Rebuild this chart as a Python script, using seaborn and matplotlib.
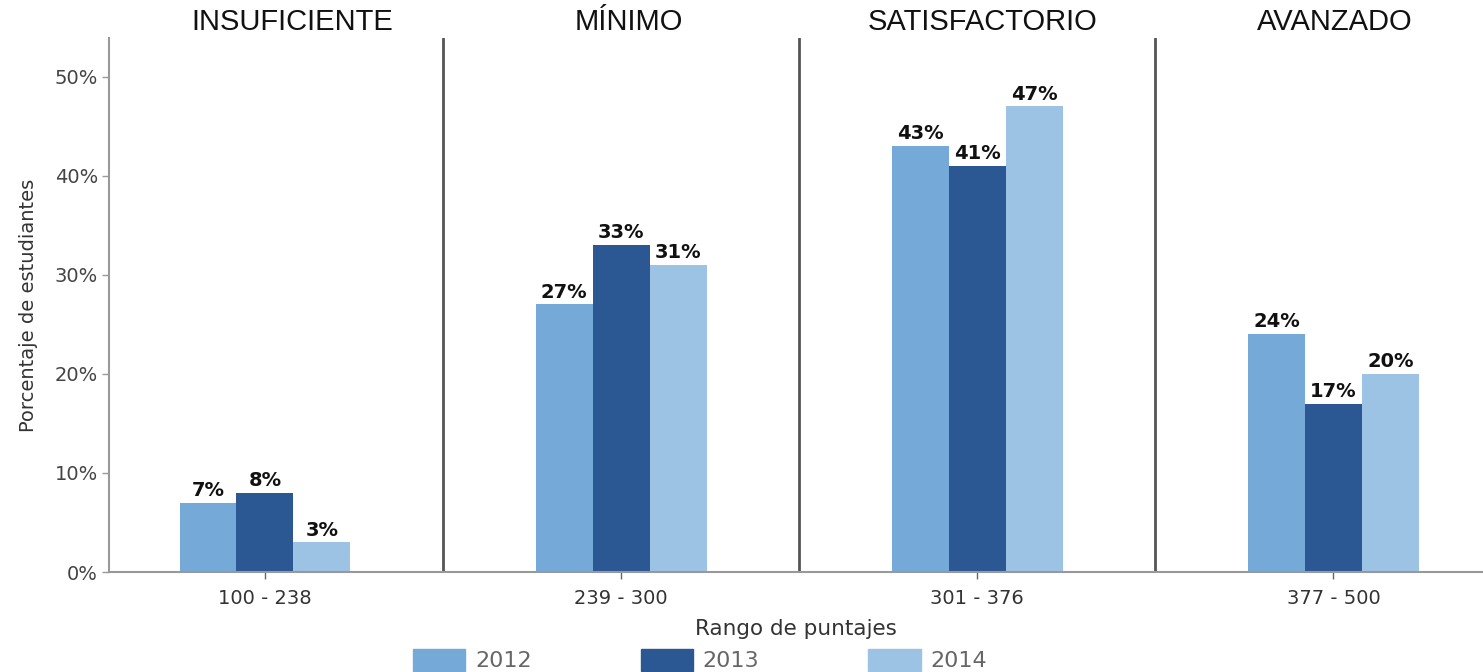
import matplotlib
matplotlib.use("Agg")
import matplotlib.pyplot as plt
import matplotlib.transforms as mtransforms
import pandas as pd
import seaborn as sns

# ── data ────────────────────────────────────────
RANGES = ["100 - 238", "239 - 300", "301 - 376", "377 - 500"]
LEVELS = ["INSUFICIENTE", "MÍNIMO", "SATISFACTORIO", "AVANZADO"]
YEARS = ["2012", "2013", "2014"]
VALUES_2012 = [7, 27, 43, 24]
VALUES_2013 = [8, 33, 41, 17]
VALUES_2014 = [3, 31, 47, 20]
Y_TICKS = [0, 10, 20, 30, 40, 50]

PALETTE = {
    "2012": "#74a9d8",
    "2013": "#2b5893",
    "2014": "#9dc3e4",
}
# headers are not exactly centred over the bar groups in the original
HEADER_SHIFT = [0.076, 0.022, 0.014, 0.003]

rows = []
for year, vals in zip(YEARS, [VALUES_2012, VALUES_2013, VALUES_2014]):
    for rng, v in zip(RANGES, vals):
        rows.append({"rango": rng, "anio": year, "pct": v})
df = pd.DataFrame(rows)

sns.set_style("white")
plt.rcParams["font.family"] = ["DejaVu Sans"]

fig = plt.figure(figsize=(14.83, 6.72), dpi=100)
ax = fig.add_axes([0.0735, 0.1488, 0.9265, 0.7947])

sns.barplot(data=df, x="rango", y="pct", hue="anio", order=RANGES,
            hue_order=YEARS, palette=PALETTE, width=0.48, saturation=1,
            linewidth=0, ax=ax, legend=False)

for cont in ax.containers:
    ax.bar_label(cont, fmt="%d%%", fontsize=14, fontweight="bold",
                 color="#111111", padding=2)

ax.set_xlim(-0.438, 3.42)
ax.set_ylim(0, 53.9)
ax.set_yticks(Y_TICKS)
ax.set_yticklabels([f"{t}%" for t in Y_TICKS])

# separators between performance levels
for x in [0.5, 1.5, 2.5]:
    ax.axvline(x, color="#555555", lw=2)

trans = mtransforms.blended_transform_factory(ax.transData, ax.transAxes)
for i, lvl in enumerate(LEVELS):
    ax.text(i + HEADER_SHIFT[i], 1.03, lvl, transform=trans, ha="center",
            va="center", fontsize=21, family=["Liberation Sans", "DejaVu Sans"],
            color="#111111")

for s in ["top", "right"]:
    ax.spines[s].set_visible(False)
for s in ["left", "bottom"]:
    ax.spines[s].set_color("#999999")
    ax.spines[s].set_linewidth(1.5)

ax.tick_params(axis="y", length=5, width=1, color="#999999",
               labelsize=14, labelcolor="#444444", left=True, pad=3)
ax.tick_params(axis="x", length=5, width=1, color="#666666",
               labelsize=14, labelcolor="#333333", bottom=True, pad=7)

ax.set_ylabel("Porcentaje de estudiantes", fontsize=14, color="#333333",
              labelpad=12)
ax.set_xlabel("Rango de puntajes", fontsize=15.5, color="#333333",
              labelpad=8)

handles = [plt.Rectangle((0, 0), 1, 1, color=PALETTE[y]) for y in YEARS]
leg = fig.legend(handles, YEARS, loc="center", bbox_to_anchor=(0.472, 0.018),
                 ncol=3, frameon=False, fontsize=16, handlelength=2.35,
                 handleheight=1.15, handletextpad=0.45, columnspacing=4.9)
for t in leg.get_texts():
    t.set_color("#666666")

fig.savefig("out.png", dpi=100)
